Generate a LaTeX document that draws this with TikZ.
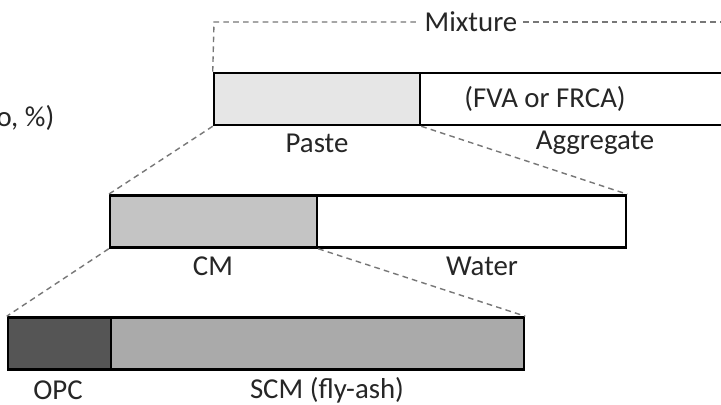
\documentclass[tikz,border=0pt]{standalone}
\usepackage{fontspec}
\setmainfont{Carlito}
\usepackage{xcolor}
\usepackage{tikz}

\definecolor{pastegray}{HTML}{E6E6E6}
\definecolor{cmgray}{HTML}{C4C4C4}
\definecolor{opcgray}{HTML}{555555}
\definecolor{scmgray}{HTML}{AAAAAA}
\definecolor{linkgray}{HTML}{777777}

\tikzset{
  seg/.style={draw, line width=1.8pt, rectangle, inner sep=0pt, minimum height=1.3cm},
  lbl/.style={font=\fontsize{20.5}{24}\selectfont, text=black!85, inner sep=1pt},
  link/.style={draw=linkgray, dash pattern=on 4pt off 3pt, line width=1pt}
}

\begin{document}
\begin{tikzpicture}[x=0.025cm, y=-0.025cm]
    \clip (0,0) rectangle (721,404);
    \fill[white] (0,0) rectangle (721,404);

    % top bar
    \node[seg, fill=pastegray, minimum width=5.15cm] (paste) at (317,99) {};
    \node[seg, fill=white, minimum width=8.5cm] (aggr) at (590,99) {};

    % middle bar
    \node[seg, fill=cmgray, minimum width=5.175cm] (cm) at (213.5,221.5) {};
    \node[seg, fill=white, minimum width=7.725cm] (water) at (471.5,221.5) {};

    % bottom bar
    \node[seg, fill=opcgray, minimum width=2.575cm] (opc) at (59.5,343.5) {};
    \node[seg, fill=scmgray, minimum width=10.325cm] (scm) at (317.5,343.5) {};

    % labels
    \node[lbl] (ratio) [anchor=east] at (56,118) {o, \%)};
    \node[lbl] (agtype) at (545,99) {(FVA or FRCA)};
    \node[lbl] (pastelbl) at (317,143) {Paste};
    \node[lbl] (aggrlbl) at (595,143) {Aggregate};
    \node[lbl] (cmlbl) at (213,266) {CM};
    \node[lbl] (waterlbl) at (482,266) {Water};
    \node[lbl] (opclbl) at (58,390) {OPC};
    \node[lbl] (scmlbl) at (327,390) {SCM (fly-ash)};

    % mixture bracket
    \coordinate (mixend) at (730,22);
    \coordinate (mixcorner) at (214,22);
    \node[lbl, fill=white, inner xsep=4pt] (mixlbl) at (471,22) {Mixture};
    \draw[link] (paste.north west) -- (mixcorner) -- (mixlbl.west);
    \draw[link] (mixlbl.east) -- (mixend);

    % zoom lines
    \draw[link] (paste.south west) -- (cm.north west);
    \draw[link] (paste.south east) -- (water.north east);
    \draw[link] (cm.south west) -- (opc.north west);
    \draw[link] (cm.south east) -- (scm.north east);

  \end{tikzpicture}
\end{document}
